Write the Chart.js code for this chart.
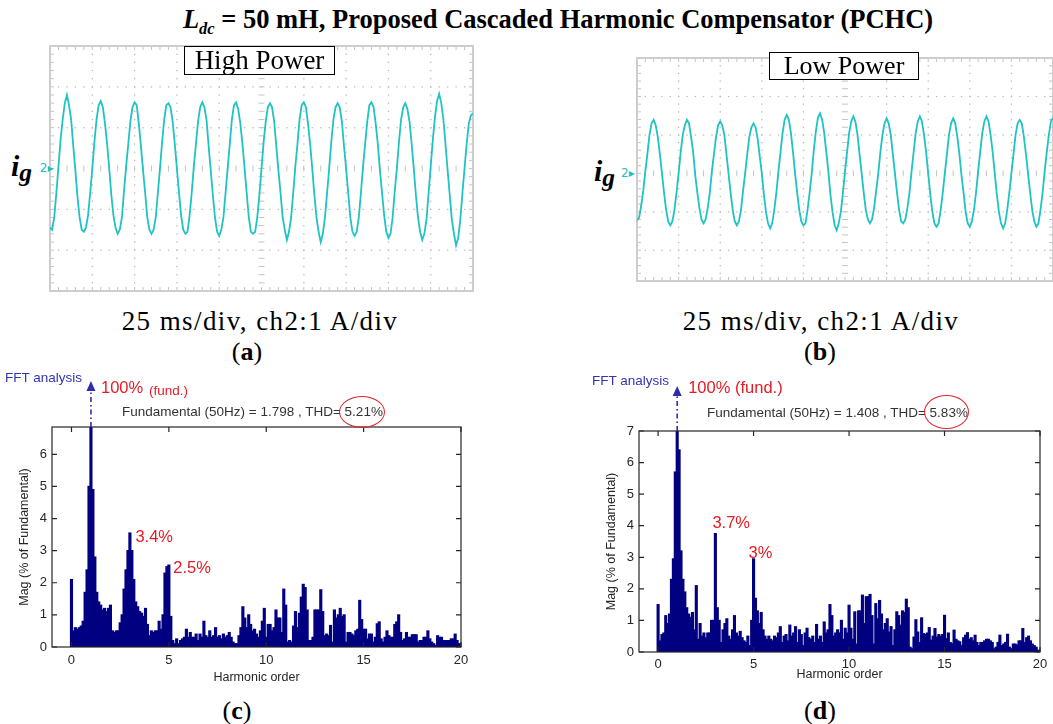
<!DOCTYPE html>
<html>
<head>
<meta charset="utf-8">
<script src="https://cdn.jsdelivr.net/npm/chart.js@4.4.1/dist/chart.umd.min.js"></script>
<style>
  body { margin: 0; width: 1053px; height: 724px; background: #fff; position: relative; overflow: hidden; font-family: "Liberation Serif", serif; color: #000; }
  canvas { position: absolute; }
  .t { position: absolute; white-space: nowrap; line-height: 1; transform: translate(-50%, -50%); }
  .tl { position: absolute; white-space: nowrap; line-height: 1; transform: translate(0, -50%); }
  .cap { font-size: 27px; letter-spacing: 1.4px; }
  .fig { font-size: 26px; }
  .pbox { position: absolute; border: 1.5px solid #000; background: #fff; display: flex; align-items: center; justify-content: center; box-sizing: border-box; }
  .ig { font-size: 30px; font-weight: bold; font-style: italic; }
  .ig sub { font-size: 0.85em; vertical-align: -0.2em; }
  .ch { font-family: "DejaVu Sans", sans-serif; font-size: 12px; color: #1fc0c0; }
  .fft { font-family: "Liberation Sans", Arial, sans-serif; font-size: 13.5px; }
  .ell { position: absolute; border: 1px solid #e0262a; border-radius: 50%; box-sizing: border-box; }
</style>
</head>
<body>

<div class="t" style="left:558px; top:22px; font-size:26.5px; font-weight:bold;"><i>L<sub style="font-size:0.62em">dc</sub></i> = 50 mH, Proposed Cascaded Harmonic Compensator (PCHC)</div>

<canvas id="scopeA" width="427" height="249" style="left:48px; top:44px;"></canvas>
<canvas id="scopeB" width="418" height="227" style="left:635px; top:56px;"></canvas>
<canvas id="fftC" width="480" height="320" style="left:0px; top:370px;"></canvas>
<canvas id="fftD" width="468" height="320" style="left:585px; top:370px;"></canvas>

<div class="pbox" style="left:184px; top:46px; width:151px; height:29px; font-size:27px;">High Power</div>
<div class="pbox" style="left:769px; top:52px; width:150px; height:28px; font-size:26px;">Low Power</div>

<div class="tl ig" style="left:11px; top:168px;">i<sub>g</sub></div>
<div class="tl ch" style="left:40px; top:168px;">2▸</div>
<div class="tl ig" style="left:594px; top:173px;">i<sub>g</sub></div>
<div class="tl ch" style="left:621px; top:173px;">2▸</div>

<div class="t cap" style="left:260px; top:321px;">25 ms/div, ch2:1 A/div</div>
<div class="t cap" style="left:821px; top:321px;">25 ms/div, ch2:1 A/div</div>
<div class="t fig" style="left:247px; top:352px;">(<b>a</b>)</div>
<div class="t fig" style="left:820px; top:352px;">(<b>b</b>)</div>

<div class="tl fft" style="left:5px; top:378px; color:#3434b4;">FFT analysis</div>
<div class="tl fft" style="left:122px; top:412px; color:#333;">Fundamental (50Hz) = 1.798 , THD= 5.21%</div>
<div class="ell" style="left:339px; top:396px; width:46px; height:32px;"></div>
<div class="tl fft" style="left:592px; top:381px; color:#3434b4;">FFT analysis</div>
<div class="tl fft" style="left:707px; top:413px; color:#333;">Fundamental (50Hz) = 1.408 , THD= 5.83%</div>
<div class="ell" style="left:924px; top:395px; width:45px; height:34px;"></div>

<div class="t fig" style="left:237px; top:711px;">(<b>c</b>)</div>
<div class="t fig" style="left:820px; top:711px;">(<b>d</b>)</div>

<script>
// scope time axis, in divisions (25 ms/div), one sample every 0.05 div
const scopeT = Array.from({ length: 201 }, (_, i) => +(i * 0.05).toFixed(2));

// grid current, high power (A, 1 A/div)
const igHigh = [
  -1.45, -1.5, -1.2, -0.6, 0.05, 0.7, 1.2, 1.6, 1.8, 1.55, 1.2, 0.55, -0.05, -0.7, -1.2, -1.5,
  -1.55, -1.45, -1.15, -0.6, 0.0, 0.65, 1.2, 1.55, 1.65, 1.5, 1.1, 0.6, 0.0, -0.65, -1.15, -1.45,
  -1.6, -1.5, -1.2, -0.55, 0.05, 0.6, 1.15, 1.5, 1.62, 1.55, 1.1, 0.55, -0.05, -0.6, -1.2, -1.5,
  -1.6, -1.5, -1.2, -0.6, 0.0, 0.65, 1.2, 1.55, 1.6, 1.5, 1.15, 0.6, 0.0, -0.6, -1.15, -1.5,
  -1.6, -1.55, -1.15, -0.6, 0.05, 0.6, 1.15, 1.5, 1.62, 1.5, 1.2, 0.55, -0.05, -0.65, -1.2, -1.55,
  -1.65, -1.5, -1.2, -0.6, 0.0, 0.6, 1.2, 1.55, 1.62, 1.45, 1.1, 0.6, 0.0, -0.6, -1.2, -1.55,
  -1.6, -1.55, -1.2, -0.65, 0.0, 0.65, 1.15, 1.5, 1.6, 1.5, 1.15, 0.55, -0.05, -0.6, -1.2, -1.5,
  -1.75, -1.55, -1.2, -0.6, 0.05, 0.6, 1.2, 1.55, 1.62, 1.5, 1.1, 0.6, 0.0, -0.65, -1.2, -1.55,
  -1.8, -1.6, -1.2, -0.6, 0.0, 0.65, 1.2, 1.5, 1.6, 1.5, 1.15, 0.55, 0.0, -0.6, -1.2, -1.55,
  -1.65, -1.55, -1.2, -0.6, 0.05, 0.6, 1.15, 1.55, 1.62, 1.5, 1.1, 0.6, -0.05, -0.6, -1.15, -1.55,
  -1.7, -1.6, -1.2, -0.55, 0.0, 0.65, 1.2, 1.5, 1.6, 1.45, 1.15, 0.6, 0.0, -0.65, -1.2, -1.55,
  -1.75, -1.6, -1.25, -0.6, 0.05, 0.7, 1.25, 1.65, 1.83, 1.6, 1.2, 0.6, -0.05, -0.65, -1.25, -1.6,
  -1.88, -1.7, -1.25, -0.6, 0.0, 0.6, 1.1, 1.3, 1.35
];

// grid current, low power
const igLow = [
  -1.22, -1.15, -0.85, -0.45, 0.05, 0.5, 1.0, 1.3, 1.39, 1.25, 0.95, 0.5, 0.0, -0.5, -0.95, -1.25,
  -1.35, -1.25, -0.95, -0.5, 0.0, 0.55, 1.0, 1.25, 1.39, 1.3, 0.95, 0.55, -0.05, -0.5, -0.9, -1.2,
  -1.3, -1.2, -0.9, -0.5, 0.05, 0.5, 0.95, 1.25, 1.35, 1.25, 1.0, 0.5, 0.0, -0.5, -0.95, -1.25,
  -1.35, -1.25, -0.95, -0.45, 0.0, 0.5, 0.95, 1.2, 1.3, 1.2, 0.9, 0.45, 0.0, -0.55, -1.0, -1.3,
  -1.43, -1.3, -0.95, -0.5, 0.05, 0.55, 1.05, 1.4, 1.52, 1.4, 1.05, 0.55, 0.0, -0.5, -0.95, -1.25,
  -1.35, -1.3, -0.95, -0.5, 0.0, 0.6, 1.1, 1.45, 1.56, 1.4, 1.05, 0.55, 0.05, -0.55, -1.0, -1.35,
  -1.48, -1.3, -1.0, -0.5, 0.05, 0.55, 1.05, 1.35, 1.48, 1.35, 1.0, 0.5, 0.0, -0.5, -0.95, -1.2,
  -1.3, -1.2, -0.9, -0.45, 0.0, 0.55, 1.0, 1.3, 1.43, 1.3, 1.0, 0.5, 0.0, -0.5, -0.95, -1.25,
  -1.3, -1.2, -0.9, -0.5, 0.05, 0.55, 1.05, 1.35, 1.48, 1.35, 1.0, 0.55, 0.0, -0.55, -1.0, -1.3,
  -1.39, -1.3, -0.95, -0.5, 0.0, 0.5, 1.0, 1.3, 1.43, 1.3, 0.95, 0.5, -0.05, -0.5, -1.0, -1.3,
  -1.39, -1.25, -0.95, -0.5, 0.05, 0.55, 1.05, 1.35, 1.48, 1.35, 1.0, 0.55, 0.0, -0.55, -1.0, -1.3,
  -1.43, -1.3, -0.95, -0.5, 0.0, 0.5, 1.0, 1.3, 1.39, 1.3, 0.95, 0.5, 0.0, -0.5, -0.95, -1.25,
  -1.39, -1.3, -0.95, -0.5, 0.05, 0.55, 1.0, 1.35, 1.45
];

// harmonic order, 0 to 20 in steps of 0.1 (5 Hz bins)
const harmonicOrder = Array.from({ length: 201 }, (_, i) => +(i / 10).toFixed(1));
const orderTicks = [0, 5, 10, 15, 20];

// magnitude, % of fundamental - high power
const magHigh = [
  2.1, 0.5, 0.6, 0.55, 0.6, 0.65, 0.8, 1.7, 2.4, 5.0,
  7.5, 4.9, 2.8, 1.7, 1.4, 1.3, 1.15, 1.2, 1.1, 1.2,
  1.3, 0.5, 0.45, 0.5, 0.5, 0.75, 1.0, 1.8, 2.4, 3.0,
  3.55, 3.0, 2.1, 1.4, 1.25, 1.1, 1.05, 0.95, 1.2, 0.7,
  0.35, 0.5, 0.45, 0.5, 0.5, 0.8, 0.55, 1.0, 2.3, 2.5,
  2.55, 0.95, 0.2, 0.1, 0.25, 0.1, 0.2, 0.25, 0.3, 0.55,
  0.3, 0.45, 0.3, 0.3, 0.4, 0.2, 0.4, 0.3, 0.8, 0.35,
  0.3, 0.5, 0.3, 0.35, 0.6, 0.3, 0.35, 0.25, 0.4, 0.3,
  0.35, 0.45, 0.3, 0.15, 0.1, 0.1, 0.35, 0.6, 1.25, 0.9,
  0.6, 1.0, 0.7, 0.5, 0.55, 0.4, 0.3, 0.5, 0.8, 1.2,
  0.3, 0.7, 0.7, 0.5, 0.6, 1.15, 0.9, 0.9, 0.45, 1.8,
  1.3, 0.15, 0.2, 0.15, 0.65, 1.1, 0.6, 1.05, 1.55, 1.95,
  1.85, 1.15, 0.2, 0.2, 0.3, 1.15, 1.15, 1.15, 1.78, 1.1,
  0.35, 0.4, 0.35, 0.67, 0.15, 1.15, 0.9, 1.0, 1.2, 0.95,
  1.0, 0.15, 0.45, 0.45, 0.4, 0.35, 0.5, 0.55, 1.45, 0.85,
  0.55, 0.55, 0.25, 0.4, 0.4, 0.15, 0.3, 0.72, 0.78, 0.25,
  0.15, 0.3, 0.5, 0.35, 0.3, 0.3, 0.7, 0.78, 1.0, 0.45,
  0.2, 0.25, 0.45, 0.3, 0.3, 0.38, 0.38, 0.38, 0.15, 0.2,
  0.2, 0.3, 0.3, 0.5, 0.25, 0.15, 0.1, 0.05, 0.35, 0.3,
  0.3, 0.2, 0.2, 0.2, 0.2, 0.25, 0.25, 0.4, 0.2, 0.1,
  0.1
];

// magnitude, % of fundamental - low power
const magLow = [
  1.5, 0.35, 0.55, 0.6, 1.15, 0.9, 1.2, 2.3, 2.95, 5.7,
  7.5, 6.4, 3.2, 2.3, 1.9, 1.4, 1.2, 1.1, 1.25, 0.7,
  2.1, 0.4, 0.9, 0.5, 0.6, 0.45, 0.6, 0.6, 1.0, 1.0,
  3.75, 1.4, 1.0, 0.3, 0.7, 0.9, 1.05, 0.5, 0.4, 0.7,
  1.15, 0.6, 0.5, 0.65, 0.45, 0.35, 0.3, 0.5, 0.2, 1.0,
  2.95, 1.7, 1.3, 0.9, 1.25, 0.7, 0.5, 0.4, 0.5, 0.4,
  0.35, 0.5, 0.45, 0.6, 0.8, 0.3, 0.5, 0.55, 0.35, 0.85,
  0.5, 0.6, 0.8, 0.3, 0.7, 0.55, 0.2, 0.6, 0.75, 0.45,
  0.4, 0.5, 0.3, 0.87, 0.4, 0.5, 0.3, 0.95, 0.6, 0.7,
  1.5, 1.15, 0.5, 0.6, 0.7, 0.6, 1.0, 0.4, 0.75, 0.6,
  1.48, 0.75, 0.4, 1.27, 0.25, 1.3, 1.3, 1.8, 0.9, 1.75,
  1.75, 1.82, 1.15, 0.25, 1.53, 1.05, 1.63, 1.2, 0.7, 0.9,
  1.05, 0.63, 0.8, 0.2, 0.7, 1.27, 1.15, 0.85, 1.3, 1.25,
  1.67, 1.4, 0.15, 0.1, 0.47, 1.02, 0.63, 0.3, 1.08, 0.58,
  0.55, 0.6, 0.77, 0.37, 0.5, 0.74, 0.47, 0.55, 0.5, 0.55,
  1.16, 0.42, 0.6, 0.3, 0.26, 0.69, 0.4, 0.35, 0.32, 0.2,
  0.45, 0.53, 0.61, 0.4, 0.45, 0.35, 0.53, 0.3, 0.2, 0.3,
  0.3, 0.35, 0.4, 0.4, 0.35, 0.3, 0.1, 0.15, 0.3, 0.53,
  0.2, 0.25, 0.3, 0.56, 0.15, 0.1, 0.25, 0.25, 0.22, 0.35,
  0.35, 0.74, 0.3, 0.45, 0.5, 0.35, 0.25, 0.2, 0.15, 0.05,
  0.05
];

Chart.defaults.font.family = '"Liberation Sans", Arial, sans-serif';

// oscilloscope graticule: border, dotted divisions, ticked centre lines
const graticule = {
  id: "graticule",
  beforeDatasetsDraw(chart) {
    const { ctx, chartArea: a, scales: { x, y } } = chart;
    ctx.save();
    ctx.fillStyle = "#b9b9b9";
    for (let d = 1; d < 10; d++) {
      if (d == 5) continue;
      const px = x.getPixelForValue(d);
      for (let m = Math.ceil(y.min * 5); m <= y.max * 5; m++) {
        ctx.fillRect(px - 0.6, y.getPixelForValue(m / 5) - 0.6, 1.3, 1.3);
      }
    }
    for (let d = Math.ceil(y.min); d < y.max; d++) {
      if (d == 0 || d == y.min) continue;
      const py = y.getPixelForValue(d);
      for (let m = 0; m <= 50; m++) {
        ctx.fillRect(x.getPixelForValue(m / 5) - 0.6, py - 0.6, 1.3, 1.3);
      }
    }
    ctx.strokeStyle = "#c4c4c4";
    ctx.lineWidth = 1;
    ctx.beginPath();
    const cx = x.getPixelForValue(5), cy = y.getPixelForValue(0);
    for (let m = 0; m <= 50; m++) {
      const px = x.getPixelForValue(m / 5);
      ctx.moveTo(px, cy - 3); ctx.lineTo(px, cy + 3);
      ctx.moveTo(px, a.top); ctx.lineTo(px, a.top + 4);
      ctx.moveTo(px, a.bottom); ctx.lineTo(px, a.bottom - 4);
    }
    for (let m = Math.ceil(y.min * 5); m <= y.max * 5; m++) {
      const py = y.getPixelForValue(m / 5);
      ctx.moveTo(cx - 3, py); ctx.lineTo(cx + 3, py);
      ctx.moveTo(a.left, py); ctx.lineTo(a.left + 4, py);
      ctx.moveTo(a.right, py); ctx.lineTo(a.right - 4, py);
    }
    ctx.stroke();
    ctx.lineWidth = 2;
    ctx.strokeStyle = "#cdcdcd";
    ctx.strokeRect(a.left, a.top, a.right - a.left, a.bottom - a.top);
    ctx.restore();
  }
};

function scopeChart(id, values, yMin, pad) {
  new Chart(document.getElementById(id), {
    type: "line",
    data: {
      datasets: [{
        data: scopeT.map((t, i) => ({ x: t, y: values[i] })),
        borderColor: "#1fc3c3",
        borderWidth: 1.8,
        pointRadius: 0,
        tension: 0
      }]
    },
    options: {
      animation: false,
      responsive: false,
      layout: { padding: pad },
      plugins: { legend: { display: false }, tooltip: { enabled: false } },
      scales: {
        x: { type: "linear", min: 0, max: 10, display: false },
        y: { min: yMin, max: 3, display: false }
      }
    },
    plugins: [graticule]
  });
}

// MATLAB style box with inward ticks on every side
const fftBox = {
  id: "fftBox",
  afterDatasetsDraw(chart) {
    const { ctx, chartArea: a, scales: { x, y } } = chart;
    ctx.save();
    ctx.strokeStyle = "#262626";
    ctx.lineWidth = 1.2;
    ctx.strokeRect(a.left, a.top, a.right - a.left, a.bottom - a.top);
    ctx.beginPath();
    x.ticks.forEach(t => {
      const px = x.getPixelForValue(t.value);
      ctx.moveTo(px, a.bottom); ctx.lineTo(px, a.bottom - 5);
      ctx.moveTo(px, a.top); ctx.lineTo(px, a.top + 5);
    });
    y.ticks.forEach(t => {
      const py = y.getPixelForValue(t.value);
      ctx.moveTo(a.left, py); ctx.lineTo(a.left + 5, py);
      ctx.moveTo(a.right, py); ctx.lineTo(a.right - 5, py);
    });
    ctx.stroke();
    ctx.restore();
  }
};

// dashed arrow to the clipped fundamental, plus red callouts
function fftNotes(arrowLen, labels) {
  return {
    id: "fftNotes",
    afterDraw(chart) {
      const { ctx, chartArea: a, scales: { x, y } } = chart;
      const ax = x.getPixelForValue(1), tip = a.top - arrowLen;
      ctx.save();
      ctx.strokeStyle = ctx.fillStyle = "#2e2eaa";
      ctx.lineWidth = 1.6;
      ctx.setLineDash([5, 3, 1.5, 3]);
      ctx.beginPath(); ctx.moveTo(ax, a.top); ctx.lineTo(ax, tip + 8); ctx.stroke();
      ctx.setLineDash([]);
      ctx.beginPath(); ctx.moveTo(ax, tip); ctx.lineTo(ax - 4.5, tip + 10); ctx.lineTo(ax + 4.5, tip + 10); ctx.closePath(); ctx.fill();
      ctx.fillStyle = "#e31b23";
      ctx.textBaseline = "middle";
      labels.forEach(l => {
        ctx.font = l.size + 'px "Liberation Sans", Arial, sans-serif';
        ctx.fillText(l.text, x.getPixelForValue(l.x) + l.dx, y.getPixelForValue(l.y));
      });
      ctx.restore();
    }
  };
}

function fftChart(id, values, yMax, o) {
  new Chart(document.getElementById(id), {
    type: "bar",
    data: {
      datasets: [{
        data: harmonicOrder.map((h, i) => ({ x: h, y: values[i] })),
        backgroundColor: "#000080",
        borderWidth: 0,
        inflateAmount: 0.6,
        barPercentage: 1,
        categoryPercentage: 1
      }]
    },
    options: {
      animation: false,
      responsive: false,
      layout: { padding: { top: o.top, right: o.right, left: 0, bottom: 0 } },
      plugins: { legend: { display: false }, tooltip: { enabled: false } },
      scales: {
        x: {
          type: "linear", min: -1, max: 20, offset: false,
          grid: { display: false, drawTicks: false },
          border: { display: false },
          afterBuildTicks: axis => { axis.ticks = orderTicks.map(v => ({ value: v })); },
          afterFit: s => { s.height = o.xh; },
          ticks: { padding: o.xPad, color: "#262626", font: { size: 13 }, maxRotation: 0, autoSkip: false },
          title: { display: true, text: "Harmonic order", color: "#262626", font: { size: 12.5 }, padding: { top: 0, bottom: o.xTitle } }
        },
        y: {
          min: 0, max: yMax,
          grid: { display: false, drawTicks: false },
          border: { display: false },
          afterBuildTicks: axis => { axis.ticks = axis.ticks.filter(t => Number.isInteger(t.value)); },
          afterFit: s => { s.width = o.yw; },
          ticks: { stepSize: 1, padding: 5, color: "#262626", font: { size: 13 } },
          title: { display: true, text: "Mag (% of Fundamental)", color: "#262626", font: { size: 12.5 }, padding: { top: o.yTitle, bottom: 0 } }
        }
      }
    },
    plugins: [fftBox, fftNotes(o.arrow, o.labels)]
  });
}

scopeChart("scopeA", igHigh, -3, { left: 2, top: 2, right: 2, bottom: 2 });
scopeChart("scopeB", igLow, -2.8, { left: 2, top: 2, right: 0, bottom: 2 });

fftChart("fftC", magHigh, 6.85, {
  top: 57, right: 19, yw: 52, xh: 43, xPad: 6, xTitle: 5, yTitle: 17.5, arrow: 46,
  labels: [
    { text: "100%", x: 1, y: 8.05, dx: 10, size: 16.5 },
    { text: "(fund.)", x: 1, y: 7.95, dx: 58, size: 13.5 },
    { text: "3.4%", x: 3, y: 3.42, dx: 5.5, size: 16.5 },
    { text: "2.5%", x: 5, y: 2.45, dx: 4.5, size: 16.5 }
  ]
});
fftChart("fftD", magLow, 7, {
  top: 61, right: 13, yw: 54, xh: 38, xPad: 5, xTitle: 7.5, yTitle: 19.5, arrow: 45,
  labels: [
    { text: "100% (fund.)", x: 1, y: 8.35, dx: 11, size: 16.5 },
    { text: "3.7%", x: 3, y: 4.08, dx: -3, size: 16.5 },
    { text: "3%", x: 5, y: 3.13, dx: -5, size: 16.5 }
  ]
});
</script>
</body>
</html>
